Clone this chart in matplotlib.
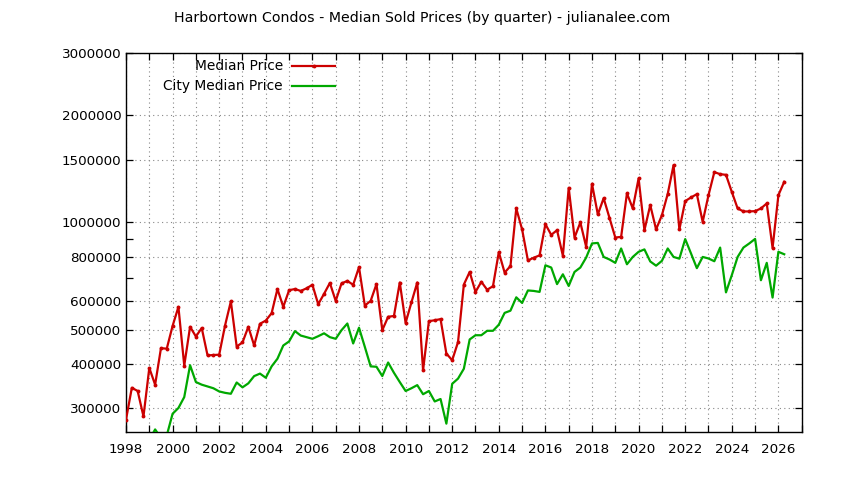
import numpy as np
import matplotlib
matplotlib.use("Agg")
import matplotlib.pyplot as plt
from matplotlib.ticker import FixedLocator, FixedFormatter, NullFormatter

plt.rcParams['font.family'] = ['DejaVu Sans']

title = "Harbortown Condos - Median Sold Prices (by quarter) - julianalee.com"

# Quarterly median sold price, starting 1998 Q1
median_start = 1998.0
median_price = [
    279000, 343000, 336000, 285000, 390000, 350000, 443000, 442000,
    512000, 579000, 396000, 509000, 478000, 505000, 423000, 424000,
    425000, 513000, 600000, 448000, 460000, 509000, 451000, 519000,
    530000, 556000, 650000, 579000, 645000, 650000, 642000, 653000,
    668000, 589000, 630000, 676000, 602000, 674000, 685000, 668000,
    749000, 584000, 602000, 671000, 498000, 543000, 546000, 678000,
    522000, 596000, 678000, 384000, 528000, 531000, 535000, 428000,
    410000, 461000, 669000, 726000, 638000, 681000, 647000, 662000,
    825000, 723000, 754000, 1095000, 956000, 782000, 796000, 808000,
    989000, 923000, 951000, 806000, 1251000, 907000, 1000000, 854000,
    1284000, 1053000, 1170000, 1030000, 907000, 911000, 1207000, 1095000,
    1330000, 951000, 1119000, 956000, 1048000, 1203000, 1449000, 956000,
    1148000, 1176000, 1201000, 1004000, 1193000, 1385000, 1367000, 1361000,
    1219000, 1095000, 1074000, 1074000, 1076000, 1095000, 1131000, 848000,
    1193000, 1301000,
]

# Quarterly city median price, starting 1999 Q1
city_start = 1999.0
city_price = [
    245000, 262000, 248000, 252000,
    290000, 301000, 323000, 397000, 356000, 350000, 346000, 342000,
    335000, 332000, 330000, 355000, 344000, 353000, 370000, 376000,
    366000, 394000, 414000, 451000, 463000, 495000, 481000, 476000,
    471000, 479000, 488000, 476000, 471000, 498000, 520000, 457000,
    506000, 447000, 394000, 393000, 370000, 404000, 378000, 356000,
    336000, 342000, 349000, 329000, 336000, 314000, 319000, 272000,
    352000, 364000, 388000, 469000, 482000, 482000, 496000, 496000,
    516000, 557000, 565000, 616000, 594000, 644000, 642000, 638000,
    758000, 747000, 671000, 715000, 663000, 726000, 747000, 797000,
    873000, 876000, 800000, 787000, 770000, 845000, 763000, 800000,
    827000, 840000, 777000, 756000, 780000, 845000, 800000, 791000,
    898000, 818000, 744000, 800000, 792000, 778000, 850000, 636000,
    711000, 800000, 850000, 873000, 899000, 688000, 770000, 615000,
    827000, 814000,
]

series_labels = ["Median Price", "City Median Price"]
y_tick_values = [300000, 400000, 500000, 600000, 800000, 1000000, 1500000, 2000000, 3000000]
y_minor_values = [700000, 900000]
x_label_years = list(range(1998, 2027, 2))

red = '#cc0000'
green = '#00a800'

fig = plt.figure(figsize=(8.44, 4.80), dpi=100)
ax = fig.add_axes([126/844, 1 - 431.5/480, (801.7-126)/844, (431.5-52.7)/480])

mx = median_start + 0.25 * np.arange(len(median_price))
cx = city_start + 0.25 * np.arange(len(city_price))

ax.plot(mx, median_price, color=red, lw=1.6, marker='o', markersize=2.8,
        markeredgewidth=0, zorder=3)
ax.plot(cx, city_price, color=green, lw=1.6, zorder=3)

ax.set_yscale('log')
ax.set_ylim(258500, 3000000)
ax.set_xlim(1998, 2027)

ax.yaxis.set_major_locator(FixedLocator(y_tick_values))
ax.yaxis.set_major_formatter(FixedFormatter([str(v) for v in y_tick_values]))
ax.yaxis.set_minor_locator(FixedLocator(y_minor_values))
ax.yaxis.set_minor_formatter(NullFormatter())

years = list(range(1998, 2028))
ax.xaxis.set_major_locator(FixedLocator(years))
ax.xaxis.set_major_formatter(FixedFormatter([str(y) if y in x_label_years else '' for y in years]))

ax.tick_params(axis='both', which='both', direction='in', top=True, right=True,
               length=5, width=0.9, labelsize=9.7, colors='black')
ax.tick_params(axis='y', which='both', pad=3.5)
ax.tick_params(axis='x', which='both', pad=8)

ax.grid(True, which='major', linestyle=(0, (1, 3)), color='#888888', lw=0.8)
for s in ax.spines.values():
    s.set_linewidth(1.0)
    s.set_color('black')

fig.text(422/844, 1 - 18/480, title, ha='center', va='center', fontsize=10.2)

# legend (gnuplot style: right-aligned text, sample to the right)
leg_rows = [66, 86]
for lab, yy, col, mk in zip(series_labels, leg_rows, [red, green], [True, False]):
    ty = 1 - yy/480
    fig.text(283/844, ty, lab, ha='right', va='center', fontsize=9.9)
    fig.add_artist(plt.Line2D([292/844, 335/844], [ty, ty], color=col, lw=1.6,
                              transform=fig.transFigure))
    if mk:
        fig.add_artist(plt.Line2D([313.5/844], [ty], color=col, marker='o',
                                  markersize=2.8, markeredgewidth=0,
                                  transform=fig.transFigure))

fig.savefig('out.png', dpi=100)
